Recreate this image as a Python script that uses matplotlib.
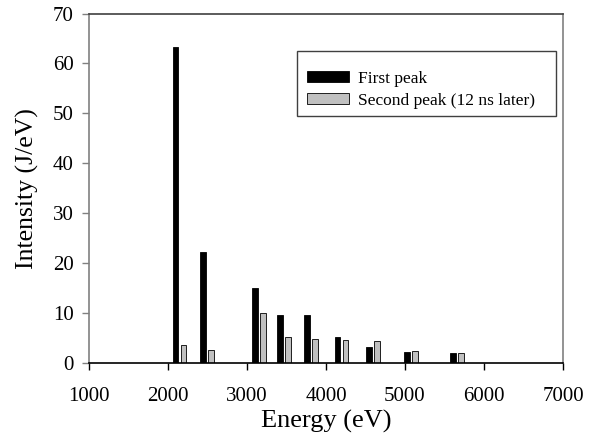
import matplotlib
matplotlib.use("Agg")
import matplotlib.pyplot as plt
from matplotlib.patches import Rectangle

plt.rcParams['font.family'] = ['Liberation Serif', 'DejaVu Serif']

# line energies (eV) and intensities (J/eV)
energy = [2095, 2443, 3101, 3420, 3763, 4146, 4548, 5025, 5611]
first_peak = [63.4, 22.2, 15.1, 9.6, 9.6, 5.2, 3.3, 2.2, 2.1]
second_peak = [3.6, 2.7, 10.0, 5.3, 4.75, 4.6, 4.35, 2.4, 1.95]

xticks = [1000, 2000, 3000, 4000, 5000, 6000, 7000]
yticks = [0, 10, 20, 30, 40, 50, 60, 70]

offset = 100
width = 70

fig = plt.figure(figsize=(5.97, 4.37), dpi=100)
ax = fig.add_axes([0.149, 0.169, 0.794, 0.800])

ax.bar(energy, first_peak, width=width, color='black', edgecolor='black',
       linewidth=0.6, label='First peak')
ax.bar([e + offset for e in energy], second_peak, width=width, color='#c0c0c0',
       edgecolor='black', linewidth=0.6, label='Second peak (12 ns later)')

ax.set_xlim(1000, 7000)
ax.set_ylim(0, 70)
ax.set_xticks(xticks)
ax.set_yticks(yticks)
ax.tick_params(direction='out', length=5, width=1, labelsize=15, colors='black')
ax.tick_params(axis='x', pad=12)
ax.tick_params(axis='y', color='#808080', pad=6)

ax.spines['bottom'].set_color('black')
ax.spines['top'].set_color('#404040')
ax.spines['left'].set_color('#808080')
ax.spines['right'].set_color('#808080')
for s in ax.spines.values():
    s.set_linewidth(1.2)

ax.set_xlabel('Energy (eV)', fontsize=19, labelpad=3)
ax.set_ylabel('Intensity (J/eV)', fontsize=18.5, labelpad=10)

# legend frame drawn separately so the rows can sit where they do in the source
ax.add_patch(Rectangle((0.439, 0.707), 0.546, 0.186, transform=ax.transAxes,
                       fill=False, edgecolor='#404040', linewidth=1.0, zorder=5))
ax.legend(loc='upper left', bbox_to_anchor=(0.46, 0.836), fontsize=12.5,
          frameon=False, handlelength=2.4, handleheight=0.6, handletextpad=0.55,
          borderpad=0, labelspacing=0.34, borderaxespad=0)

fig.savefig('out.png', dpi=100)
